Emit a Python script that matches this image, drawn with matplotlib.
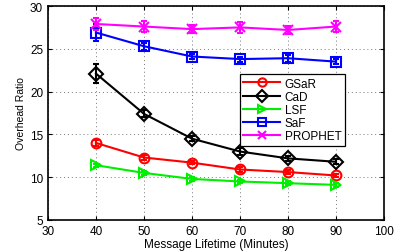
import matplotlib
matplotlib.use('Agg')
import matplotlib.pyplot as plt

plt.rcParams['font.family'] = ['Liberation Sans', 'DejaVu Sans']

lifetime = [40, 50, 60, 70, 80, 90]

gsar = [14.0, 12.3, 11.7, 10.9, 10.6, 10.2]
cad = [22.1, 17.4, 14.5, 13.0, 12.2, 11.8]
lsf = [11.4, 10.5, 9.8, 9.5, 9.3, 9.1]
saf = [26.9, 25.3, 24.1, 23.8, 23.9, 23.5]
prophet = [27.9, 27.6, 27.3, 27.5, 27.2, 27.6]

gsar_err = [0.3, 0.3, 0.2, 0.3, 0.2, 0.2]
cad_err = [1.1, 0.4, 0.3, 0.4, 0.3, 0.3]
lsf_err = [0.2, 0.2, 0.2, 0.2, 0.2, 0.2]
saf_err = [1.0, 0.4, 0.3, 0.3, 0.4, 0.3]
prophet_err = [0.7, 0.6, 0.5, 0.6, 0.5, 0.6]

fig = plt.figure(figsize=(4.02, 2.53), dpi=100)
ax = fig.add_axes([48/402, 32/253, 336/402, 214/253])

series = [
    ('GSaR', gsar, gsar_err, 'red', 'o'),
    ('CaD', cad, cad_err, 'black', 'D'),
    ('LSF', lsf, lsf_err, '#00ee00', '>'),
    ('SaF', saf, saf_err, 'blue', 's'),
    ('PROPHET', prophet, prophet_err, 'magenta', 'x'),
]
handles = []
labels = []
for name, vals, err, col, mk in series:
    cont = ax.errorbar(lifetime, vals, yerr=err, color=col, marker=mk, markersize=7,
                       markerfacecolor='none', markeredgewidth=1.5, linewidth=1.5,
                       capsize=2, elinewidth=1.5)
    handles.append(cont[0])
    labels.append(name)

ax.set_xlim(30, 100)
ax.set_ylim(5, 30)
ax.set_xticks(range(30, 101, 10))
ax.set_yticks(range(5, 31, 5))
ax.grid(True, linestyle=(0, (1, 3)), color='#777777', linewidth=0.7)
ax.tick_params(direction='in', top=True, right=True, labelsize=8.5, length=3)
ax.set_xlabel('Message Lifetime (Minutes)', fontsize=8.5, labelpad=1)
ax.set_ylabel('Overhead Ratio', fontsize=7.5, labelpad=3)
for s in ax.spines.values():
    s.set_linewidth(1.2)

leg = ax.legend(handles, labels, loc='upper right', bbox_to_anchor=(0.884, 0.682),
                borderaxespad=0, fontsize=8.5, fancybox=False, edgecolor='black',
                framealpha=1, handlelength=3.1, borderpad=0.3, labelspacing=0.1,
                handletextpad=0.4, markerscale=0.85)
leg.get_frame().set_linewidth(0.9)

fig.savefig('out.png', dpi=100)
